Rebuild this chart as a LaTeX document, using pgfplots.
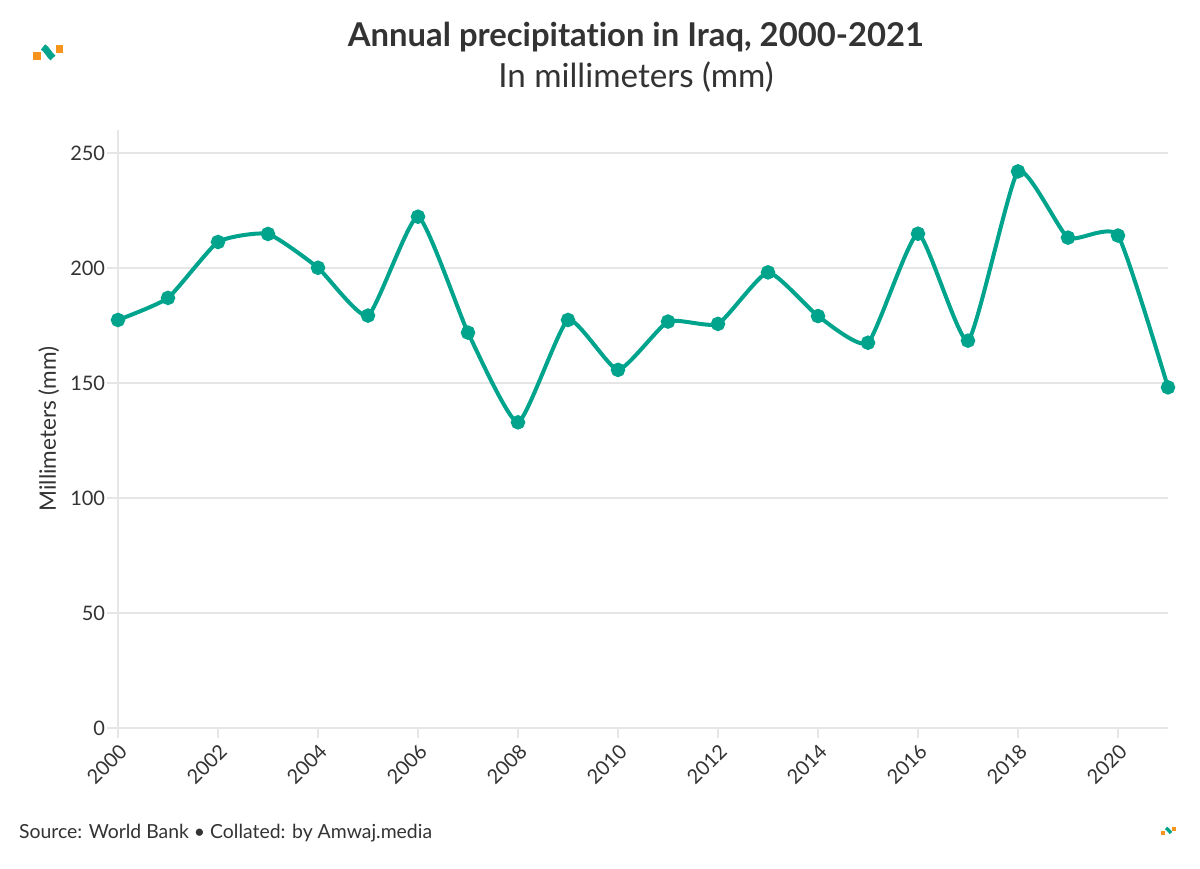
\documentclass[border=0pt]{standalone}
\usepackage{pgfplots}
\pgfplotsset{compat=1.18}
\usepackage{fontspec}
\setmainfont{Lato}[Ligatures=NoCommon]
\definecolor{teal}{HTML}{00A38C}
\definecolor{amber}{HTML}{F7941D}
\definecolor{txt}{HTML}{333333}
\definecolor{gridc}{HTML}{E6E6E6}
\begin{document}
\begin{tikzpicture}
\begin{scope}[x=0.5pt,y=0.5pt]
\useasboundingbox (0,0) rectangle (1200,868);
% titles
\node[txt,font=\fontsize{16.4}{19}\selectfont\bfseries] at (636,831) {Annual precipitation in Iraq, 2000-2021};
\node[txt,font=\fontsize{16.6}{19}\selectfont] at (636,791) {In millimeters (mm)};
% logo, top left
\fill[amber] (33,808) rectangle (41,816);
\fill[amber] (56,815) rectangle (63,823);
\draw[teal, line width=3.4pt] (43,821) .. controls (47,819) and (49,813) .. (53,810);
% logo, bottom right
\fill[amber] (1161,33) rectangle (1165,37);
\fill[amber] (1172,37) rectangle (1176,41);
\draw[teal, line width=1.7pt] (1166,40) .. controls (1168,39) and (1169,37) .. (1171,35);
% source
\node[txt,anchor=west,font=\fontsize{9.7}{11}\selectfont] at (12,35) {Source: World Bank \textbullet{} Collated: by Amwaj.media};
\end{scope}
\begin{axis}[
  at={(59pt,70pt)}, anchor=south west,
  scale only axis, width=525pt, height=299pt,
  xmin=2000, xmax=2021, ymin=0, ymax=260,
  xtick={2000,2002,...,2020}, ytick={0,50,...,250},
  axis x line*=bottom, axis y line*=left,
  axis line style={gridc, line width=0.8pt},
  x axis line style={-}, y axis line style={-},
  ymajorgrids, grid style={gridc, line width=0.8pt},
  xtick style={gridc, line width=0.8pt}, ytick style={gridc, line width=0.8pt},
  xtick style={/pgfplots/major tick length=5pt},
  ytick style={/pgfplots/major tick length=5.5pt},
  tick align=outside,
  x tick label style={rotate=45, anchor=north east, font=\fontsize{10}{12}\selectfont, text=txt, inner sep=2pt},
  y tick label style={font=\fontsize{10}{12}\selectfont, text=txt, inner sep=2pt},
  /pgf/number format/assume math mode=true,
  /pgf/number format/1000 sep={},
  ylabel={Millimeters (mm)},
  ylabel style={font=\fontsize{11.3}{13}\selectfont, text=txt},
  clip=false,
]
\addplot[teal, line width=2pt, smooth, tension=0.3, mark=*, mark size=2.6pt, mark options={fill=teal, draw=teal}] coordinates {
(2000,177.4) (2001,187.0) (2002,211.3) (2003,214.8) (2004,200.1) (2005,179.3)
(2006,222.3) (2007,171.9) (2008,132.9) (2009,177.4) (2010,155.7) (2011,176.7)
(2012,175.7) (2013,198.1) (2014,179.1) (2015,167.5) (2016,214.9) (2017,168.4)
(2018,242.0) (2019,213.2) (2020,214.1) (2021,148.1)
};
\end{axis}
\end{tikzpicture}
\end{document}
